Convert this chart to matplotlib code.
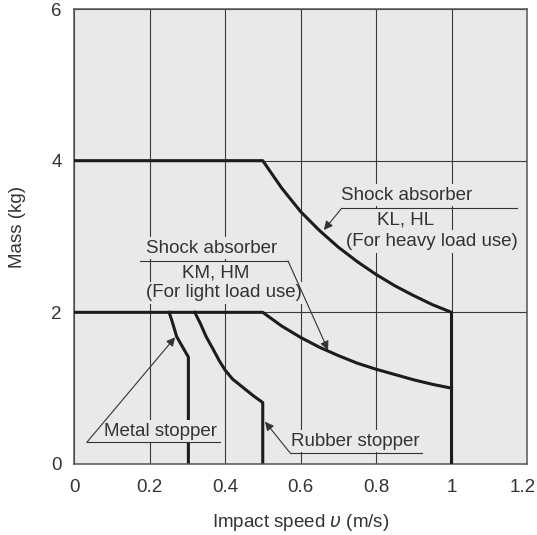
import matplotlib
matplotlib.use("Agg")
import matplotlib.pyplot as plt
from matplotlib.transforms import ScaledTranslation

# ------------------------------
# Datos
# ------------------------------
heavy_v = [0.0, 0.5, 0.55, 0.6, 0.65, 0.7, 0.75, 0.8, 0.85, 0.9, 0.95, 1.0, 1.0]
heavy_m = [4.0, 4.0, 3.64, 3.33, 3.08, 2.86, 2.67, 2.5, 2.35, 2.22, 2.1, 2.0, 0.0]

light_v = [0.0, 0.5, 0.55, 0.6, 0.65, 0.7, 0.75, 0.8, 0.85, 0.9, 0.95, 1.0]
light_m = [2.0, 2.0, 1.82, 1.67, 1.54, 1.43, 1.33, 1.25, 1.18, 1.11, 1.05, 1.0]

metal_v = [0.252, 0.258, 0.263, 0.272, 0.288, 0.303, 0.303]
metal_m = [2.0, 1.91, 1.83, 1.68, 1.54, 1.41, 0.0]

rubber_v = [0.32, 0.335, 0.35, 0.37, 0.385, 0.40, 0.42, 0.45, 0.475, 0.50, 0.50]
rubber_m = [2.0, 1.85, 1.68, 1.5, 1.36, 1.24, 1.12, 1.0, 0.9, 0.81, 0.0]

x_ticks = [0, 0.2, 0.4, 0.6, 0.8, 1.0, 1.2]
x_labels = ["0", "0.2", "0.4", "0.6", "0.8", "1", "1.2"]
y_ticks = [0, 2, 4, 6]
y_labels = ["0", "2", "4", "6"]

# ------------------------------
# Estilo
# ------------------------------
plt.rcParams['font.family'] = ['Liberation Sans', 'DejaVu Sans']
bg = "#e9e9e9"
txt = "#333333"
ink = "#1c1c1c"
fs = 13.5

fig = plt.figure(figsize=(5.37, 5.35), dpi=100)
ax = fig.add_axes([74 / 537, 71 / 535, 453 / 537, 455 / 535])
ax.set_facecolor(bg)
ax.set_axisbelow(True)

ax.set_xlim(0, 1.2)
ax.set_ylim(0, 6)
ax.set_xticks(x_ticks)
ax.set_xticklabels(x_labels)
ax.set_yticks(y_ticks)
ax.set_yticklabels(y_labels)
ax.tick_params(length=0, labelsize=fs, colors=txt)
ax.tick_params(axis='x', pad=11)
ax.tick_params(axis='y', pad=9)
ax.grid(True, color="#3a3a3a", lw=0.8)
for s in ax.spines.values():
    s.set_color("#555555")
    s.set_linewidth(1.1)

# el "1.2" un poco a la izquierda para que no se corte
ultimo = ax.get_xticklabels()[-1]
ultimo.set_transform(ultimo.get_transform() + ScaledTranslation(-4 / 100, 0, fig.dpi_scale_trans))

ax.set_xlabel(r"Impact speed $\upsilon$ (m/s)", fontsize=fs, color=txt, labelpad=11)
ax.set_ylabel("Mass (kg)", fontsize=fs, color=txt, labelpad=17)
ax.yaxis.set_label_coords(-0.105, 0.52)

# ------------------------------
# Curvas (amortiguadores encima de los textos, topes debajo)
# ------------------------------
lw = 2.2
ax.plot(heavy_v, heavy_m, color=ink, lw=lw, zorder=4)
ax.plot(light_v, light_m, color=ink, lw=lw, zorder=4)
ax.plot(metal_v, metal_m, color=ink, lw=lw, zorder=2)
ax.plot(rubber_v, rubber_m, color=ink, lw=lw, zorder=2)

# ------------------------------
# Etiquetas con flechas
# ------------------------------
box = dict(facecolor=bg, edgecolor='none', pad=2)
arrow = dict(arrowstyle='-|>', lw=0.8, color="#333333", mutation_scale=13,
             shrinkA=0, shrinkB=0)


def etiqueta(textos, ux0, ux1, uy, tip, start):
    for (x, y, s) in textos:
        ax.text(x, y, s, fontsize=fs, color=txt, ha='center', va='center',
                bbox=box, zorder=3)
    ax.plot([ux0, ux1], [uy, uy], color="#333333", lw=0.8, zorder=3)
    ax.annotate("", xy=tip, xytext=start, arrowprops=arrow, zorder=3)


etiqueta([(0.881, 3.547, "Shock absorber"),
          (0.877, 3.218, "KL, HL"),
          (0.948, 2.932, "(For heavy load use)")],
         0.709, 1.173, 3.372, (0.662, 3.086), (0.709, 3.372))

etiqueta([(0.364, 2.848, "Shock absorber"),
          (0.376, 2.523, "KM, HM"),
          (0.397, 2.255, "(For light load use)")],
         0.175, 0.567, 2.677, (0.673, 1.503), (0.567, 2.677))

etiqueta([(0.228, 0.426, "Metal stopper")],
         0.034, 0.387, 0.286, (0.268, 1.671), (0.034, 0.286))

etiqueta([(0.744, 0.303, "Rubber stopper")],
         0.572, 0.921, 0.149, (0.506, 0.558), (0.572, 0.149))

fig.savefig("out.png", dpi=100, facecolor="white")
